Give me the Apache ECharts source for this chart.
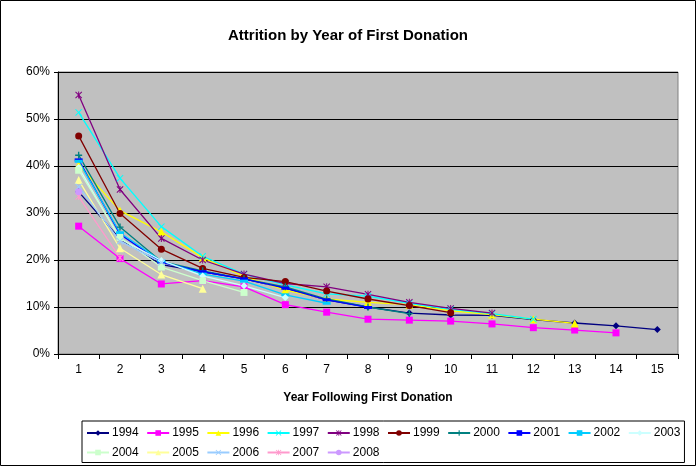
<!DOCTYPE html>
<html>
<head>
<meta charset="utf-8">
<script src="https://cdn.jsdelivr.net/npm/echarts@6/dist/echarts.min.js"></script>
<style>
  html, body { margin: 0; padding: 0; background: #fff; }
  #chart { width: 696px; height: 466px; }
</style>
</head>
<body>
<div id="chart"></div>
<script>
var years = ['1','2','3','4','5','6','7','8','9','10','11','12','13','14','15'];

var s1994 = [34.5, 24.5, 19.0, 17.5, 16.0, 14.0, 11.5, 10.0, 8.7, 8.3, 8.2, 7.3, 6.6, 6.0, 5.2];
var s1995 = [27.2, 20.3, 14.9, 15.6, 14.3, 10.5, 8.9, 7.4, 7.2, 7.0, 6.4, 5.6, 5.1, 4.5];
var s1996 = [40.2, 30.5, 26.0, 20.5, 16.5, 13.6, 11.7, 11.0, 10.5, 9.2, 8.4, 7.4, 6.5];
var s1997 = [51.4, 37.4, 27.1, 20.8, 17.0, 14.7, 12.8, 12.3, 10.8, 9.5, 8.6, 7.4];
var s1998 = [55.1, 35.0, 24.6, 20.0, 17.0, 15.0, 14.3, 12.7, 11.0, 9.7, 8.7];
var s1999 = [46.4, 29.9, 22.3, 18.2, 16.3, 15.4, 13.4, 11.7, 10.3, 8.8];
var s2000 = [42.3, 27.0, 19.7, 17.7, 16.0, 14.3, 11.7, 10.0, 8.6];
var s2001 = [41.3, 25.5, 19.5, 17.5, 16.0, 14.0, 11.5, 9.9];
var s2002 = [41.0, 25.8, 19.8, 17.0, 15.5, 12.6, 10.8];
var s2003 = [39.7, 24.5, 19.9, 16.6, 14.5, 12.0];
var s2004 = [39.1, 24.8, 18.5, 15.6, 13.1];
var s2005 = [37.0, 22.5, 16.9, 13.9];
var s2006 = [35.6, 24.0, 19.5];
var s2007 = [33.5, 20.5];
var s2008 = [34.5];

var X = 'path://M0,1L1,0L5,4L9,0L10,1L6,5L10,9L9,10L5,6L1,10L0,9L4,5Z';
var STAR = 'path://M0,1L1,0L5,4L9,0L10,1L6,5L10,9L9,10L5,6L1,10L0,9L4,5ZM4.3,0H5.7V10H4.3Z';
var PLUS = 'path://M4,0H6V4H10V6H6V10H4V6H0V4H4Z';

var defs = [
  ['1994', s1994, '#000080', 'diamond', 7],
  ['1995', s1995, '#FF00FF', 'rect', 7],
  ['1996', s1996, '#FFFF00', 'triangle', 8],
  ['1997', s1997, '#00FFFF', X, 7],
  ['1998', s1998, '#800080', STAR, 7],
  ['1999', s1999, '#800000', 'circle', 7],
  ['2000', s2000, '#008080', PLUS, 7],
  ['2001', s2001, '#0000FF', 'rect', [8, 3]],
  ['2002', s2002, '#00CCFF', 'rect', [8, 3]],
  ['2003', s2003, '#CCFFFF', 'diamond', 7],
  ['2004', s2004, '#CCFFCC', 'rect', 7],
  ['2005', s2005, '#FFFF99', 'triangle', 8],
  ['2006', s2006, '#99CCFF', X, 7],
  ['2007', s2007, '#FF99CC', STAR, 7],
  ['2008', s2008, '#CC99FF', 'circle', 7]
];

var series = defs.map(function (d) {
  return {
    name: d[0],
    type: 'line',
    data: d[1].map(function (v) { return v / 100; }),
    symbol: d[3],
    symbolSize: d[4],
    showAllSymbol: true,
    lineStyle: { color: d[2], width: 1.3 },
    itemStyle: { color: d[2] },
    emphasis: { disabled: true },
    animation: false
  };
});

var font = 'Liberation Sans, Arial, sans-serif';
var chart = echarts.init(document.getElementById('chart'), null, { renderer: 'canvas' });
chart.setOption({
  backgroundColor: '#fff',
  animation: false,
  textStyle: { fontFamily: font },
  title: {
    text: 'Attrition by Year of First Donation',
    left: 'center',
    top: 23,
    textStyle: { fontFamily: font, fontSize: 15, fontWeight: 'bold', color: '#000' }
  },
  graphic: [{
    type: 'rect',
    shape: { x: 0.5, y: 0.5, width: 695, height: 465 },
    style: { fill: 'none', stroke: '#000', lineWidth: 1 },
    silent: true
  }],
  legend: {
    left: 82,
    top: 421,
    width: 615,
    itemWidth: 22,
    itemHeight: 7,
    itemGap: 7.5,
    padding: [6, 4, 4, 4],
    borderColor: '#000',
    borderWidth: 1,
    textStyle: { fontFamily: font, fontSize: 12, color: '#000', padding: [0, 0, 0, -2] },
    data: defs.map(function (d) { return d[0]; })
  },
  grid: {
    left: 58, right: 18, top: 72, bottom: 112,
    show: true,
    backgroundColor: '#C0C0C0',
    borderColor: '#808080',
    borderWidth: 1
  },
  xAxis: {
    type: 'category',
    data: years,
    boundaryGap: true,
    name: 'Year Following First Donation',
    nameLocation: 'middle',
    nameGap: 38,
    nameTextStyle: { fontFamily: font, fontSize: 12, fontWeight: 'bold', color: '#000' },
    axisLine: { lineStyle: { color: '#000' } },
    axisTick: { show: true, length: 5, lineStyle: { color: '#000' } },
    axisLabel: { fontFamily: font, fontSize: 12, color: '#000', margin: 10 }
  },
  yAxis: {
    type: 'value',
    min: 0,
    max: 0.6,
    interval: 0.1,
    axisLine: { show: true, lineStyle: { color: '#000' } },
    axisTick: { show: true, length: 4, lineStyle: { color: '#000' } },
    axisLabel: {
      fontFamily: font, fontSize: 12, color: '#000', margin: 8,
      formatter: function (v) { return Math.round(v * 100) + '%'; }
    },
    splitLine: { lineStyle: { color: '#000', width: 1 } }
  },
  series: series
});
</script>
</body>
</html>
